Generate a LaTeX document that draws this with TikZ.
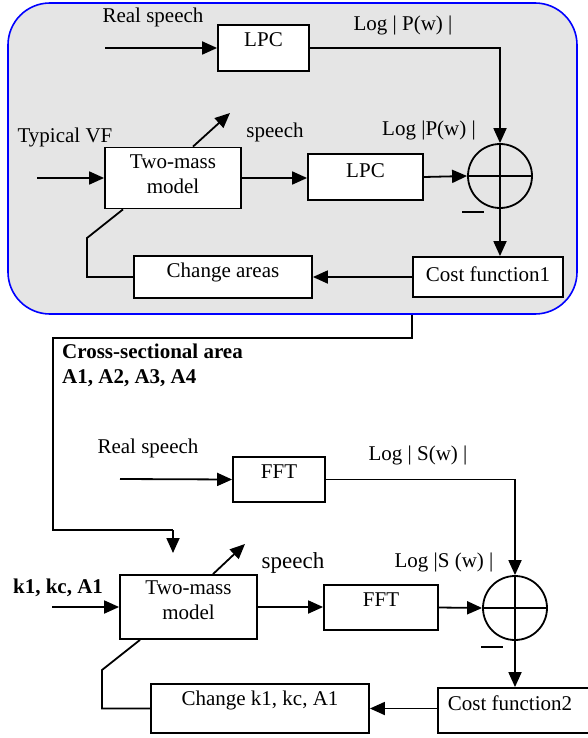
\documentclass[tikz,border=0pt]{standalone}
\usepackage{fontspec}
\setmainfont{Liberation Serif}
\usetikzlibrary{arrows.meta,calc}
\begin{document}
\begin{tikzpicture}[x=1pt,y=-1pt,
  every node/.style={font=\fontsize{21}{25}\selectfont, inner sep=0pt},
  blk/.style={draw, fill=white, line width=1.8pt, inner sep=0pt},
  sumnode/.style={draw, circle, line width=1.8pt, minimum size=64, inner sep=0pt},
  frm/.style={draw=blue, fill=gray!20, line width=1.6pt, rounded corners=42, inner sep=0pt},
  conn/.style={line width=1.8pt},
  arr/.style={line width=1.8pt, -{Triangle[length=15pt,width=13pt]}},
  boldtxt/.style={font=\fontsize{21}{25}\selectfont\bfseries, align=left}
]
\useasboundingbox (0,0) rectangle (588,738);
\clip (0,0) rectangle (588,738);

% ---------- upper frame ----------
\node[frm, minimum width=569, minimum height=311] (frame) at (292.5,158.5) {};

\node (rs1) at (153,17) {Real speech};
\node[blk, minimum width=91, minimum height=46, label={[yshift=8]center:LPC}] (lpc1) at (263.5,48) {};
\node (logp1) at (403,25) {Log | P(w) |};

\node (tvf) at (65,137) {Typical VF};
\node[blk, minimum width=136, minimum height=61, label={[yshift=3.5,align=center]center:Two-mass\\model}] (tm1) at (173,178) {};
\node (sp1) at (275,132) {speech};
\node[blk, minimum width=115, minimum height=46, label={[yshift=6]center:LPC}] (lpc2) at (365.5,177) {};
\node (logp2) at (429,130) {Log |P(w) |};

\node[sumnode] (sum1) at (500,176) {};

\node[blk, minimum width=150, minimum height=40, label={[yshift=3]center:Cost function1}] (cf1) at (488,277) {};
\node[blk, minimum width=178, minimum height=42, label={[yshift=5]center:Change areas}] (ca) at (223,277) {};

\coordinate (rs1in) at (105,48);
\coordinate (tvfin) at (37,178);
\coordinate (sp1tip) at (230,113);
\coordinate (fb1) at (87,238);

\draw[arr] (rs1in) -- (lpc1.west);
\draw[arr] (lpc1.east) -| (sum1.north);
\draw[arr] (tvfin) -- (tm1.west);
\draw[arr] ([xshift=20]tm1.north) -- (sp1tip);
\draw[arr] (tm1.east) -- (tm1.east -| lpc2.west);
\draw[arr] (lpc2.east) -- (sum1.west);
\draw[arr] (sum1.south) -- (sum1.south |- cf1.north);
\draw[arr] (cf1.west) -- (ca.east);
\draw[conn] (ca.west) -| (fb1) -- ([xshift=-50]tm1.south);

\draw[conn] (sum1.north) -- (sum1.south);
\draw[conn] (sum1.west) -- (sum1.east);
\draw[conn] ($(sum1.center)+(-38,36)$) -- ($(sum1.center)+(-16,36)$);

% ---------- lower part ----------
\coordinate (c1) at (53,338);
\coordinate (c2) at (173,530);
\coordinate (tm2in) at (173,553);
\draw[conn] (frame.south -| cf1.west) |- (c1) |- (c2);
\draw[arr] (c2) -- (tm2in);

\node[boldtxt, anchor=west] (csa) at (62,365.5) {Cross-sectional area\\A1, A2, A3, A4};

\node (rs2) at (148,448) {Real speech};
\node[blk, minimum width=92, minimum height=45, label={[yshift=7.5]center:FFT}] (fft1) at (279,479.5) {};
\node (logs1) at (418,455) {Log | S(w) |};

\node[boldtxt] (k1) at (58,588) {k1, kc, A1};
\node[blk, minimum width=137, minimum height=64, label={[yshift=6.5,align=center]center:Two-mass\\model}] (tm2) at (188.5,607) {};
\node[font=\fontsize{23}{27}\selectfont] (sp2) at (293,563) {speech};
\node[blk, minimum width=114, minimum height=45, label={[yshift=7.5]center:FFT}] (fft2) at (381,607.5) {};
\node (logs2) at (444,562) {Log |S (w) |};

\node[sumnode] (sum2) at (515,608) {};

\node[blk, minimum width=154, minimum height=45, label={[yshift=7.5,xshift=-5]center:Cost function2}] (cf2) at (515,710.5) {};
\node[blk, minimum width=218, minimum height=49, label={[yshift=8.5]center:Change k1, kc, A1}] (ch2) at (260,708.5) {};

\coordinate (rs2in) at (120,479);
\coordinate (k1in) at (52,607);
\coordinate (sp2tip) at (245,544);
\coordinate (fb2) at (102,670);

\draw[arr] (rs2in) -- (fft1.west);
\draw[arr] (fft1.east) -| (sum2.north);
\draw[arr] (k1in) -- (tm2.west);
\draw[arr] ([xshift=24.5]tm2.north) -- (sp2tip);
\draw[arr] (tm2.east) -- (tm2.east -| fft2.west);
\draw[arr] (fft2.east) -- (sum2.west);
\draw[arr] (sum2.south) -- (sum2.south |- cf2.north);
\draw[arr] (cf2.west |- ch2.east) -- (ch2.east);
\draw[conn] (ch2.west) -| (fb2) -- ([xshift=-48.5]tm2.south);

\draw[conn] (sum2.north) -- (sum2.south);
\draw[conn] (sum2.west) -- (sum2.east);
\draw[conn] ($(sum2.center)+(-34,39)$) -- ($(sum2.center)+(-12,39)$);
\end{tikzpicture}
\end{document}
